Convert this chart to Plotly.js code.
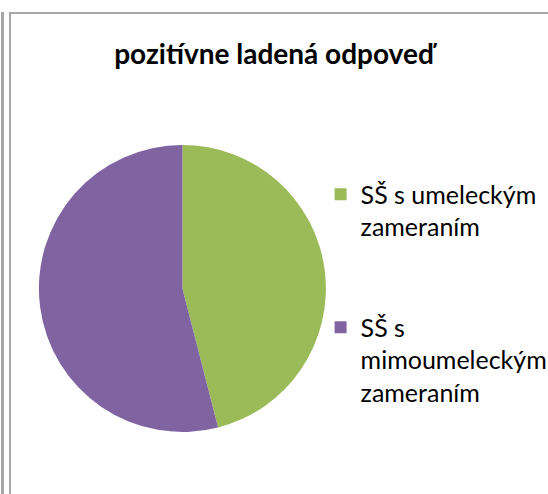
<!DOCTYPE html>
<html>
<head>
<meta charset="utf-8">
<script src="https://cdn.plot.ly/plotly-3.0.1.min.js"></script>
<style>
  html, body { margin: 0; padding: 0; background: #fff; }
  #wrap { position: relative; width: 548px; height: 494px; overflow: hidden; }
  #chart { position: absolute; left: 0; top: 0; width: 548px; height: 494px; }
  .ln { position: absolute; background: #a6a6a6; }
</style>
</head>
<body>
<div id="wrap">
  <div id="chart"></div>
  <div class="ln" style="left:1px;top:12px;width:3px;height:482px;"></div>
  <div class="ln" style="left:9px;top:12px;width:2px;height:482px;"></div>
  <div class="ln" style="left:9px;top:12px;width:539px;height:2px;"></div>
</div>
<script>
const chartTitle = "pozitívne ladená odpoveď";
const categories = ["SŠ s umeleckým<br>zameraním<br>&nbsp;<br>&nbsp;", "SŠ s<br>mimoumeleckým<br>zameraním"];
const values = [46, 54];
const colors = ["#9BBB59", "#8064A2"];

const traces = [{
  type: "pie",
  labels: categories,
  values: values,
  marker: { colors: colors, line: { width: 0 } },
  sort: false,
  direction: "clockwise",
  rotation: 0,
  textinfo: "none",
  hoverinfo: "label+percent",
  domain: { x: [0.0710, 0.5947], y: [0.1255, 0.7065] },
  showlegend: true
}];

const layout = {
  width: 548, height: 494,
  margin: { l: 0, r: 0, t: 0, b: 0, autoexpand: false },
  paper_bgcolor: "rgba(0,0,0,0)",
  font: { family: "Lato, 'Open Sans', sans-serif", color: "#000" },
  title: {
    text: "<b>" + chartTitle + "</b>",
    font: { size: 28, family: "Lato, 'Open Sans', sans-serif", color: "#000" },
    x: 0.5, xanchor: "center", y: 0.89, yanchor: "middle"
  },
  legend: {
    x: 0.585, xanchor: "left",
    y: 0.653, yanchor: "top",
    valign: "top",
    font: { size: 25, family: "Lato, 'Open Sans', sans-serif", color: "#000" },
    bgcolor: "rgba(0,0,0,0)",
    traceorder: "normal"
  },
  showlegend: true
};

Plotly.newPlot("chart", traces, layout, { displayModeBar: false, staticPlot: true });
</script>
</body>
</html>
